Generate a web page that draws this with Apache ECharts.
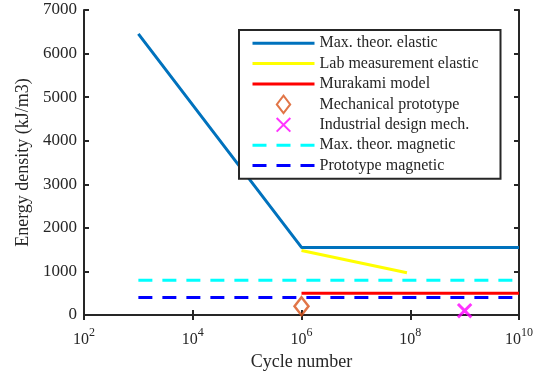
<!DOCTYPE html>
<html>
<head>
<meta charset="utf-8">
<script src="https://cdn.jsdelivr.net/npm/echarts@6/dist/echarts.min.js"></script>
<style>
  html, body { margin: 0; padding: 0; background: #fff; }
  #chart { width: 542px; height: 374px; }
</style>
</head>
<body>
<div id="chart"></div>
<script>
// Energy density vs. cycle number for elastic and magnetic storage
const seriesNames = [
  'Max. theor. elastic',
  'Lab measurement elastic',
  'Murakami model',
  'Mechanical prototype',
  'Industrial design mech.',
  'Max. theor. magnetic',
  'Prototype magnetic'
];
// [cycle number, energy density kJ/m3]
const maxTheorElastic = [[1e3, 6450], [1e6, 1550], [1e10, 1550]];
const labElastic = [[1e6, 1480], [8.7e7, 970]];
const murakami = [[1e6, 500], [1e10, 500]];
const mechPrototype = [[1e6, 200]];
const industrialDesign = [[1e9, 100]];
const maxTheorMagnetic = [[1e3, 800], [1e10, 800]];
const prototypeMagnetic = [[1e3, 400], [1e10, 400]];

const xMin = 1e2, xMax = 1e10;
const yMin = 0, yMax = 7000, yStep = 1000;

const ink = '#262626';
const serif = 'Liberation Serif';

// Symbol shapes; the zero-length end points only widen the bounding box
const noSymbol = 'path://M0,0L1,0Z M0,1L1,1Z';
const diamondPath = 'path://M5,0L10,6.5L5,13L0,6.5Z';
const crossPath = 'path://M0,0L0,0 M1.5,1.5L12.5,12.5 M12.5,1.5L1.5,12.5 M14,14L14,14';

const chart = echarts.init(document.getElementById('chart'), null, { renderer: 'canvas' });

const xBase = {
  type: 'log', logBase: 10, min: xMin, max: xMax, interval: 2,
  axisLine: { show: true, lineStyle: { color: ink, width: 2 } },
  axisTick: { show: true, inside: true, length: 5, lineStyle: { color: ink, width: 2 } },
  splitLine: { show: false }
};
const yBase = {
  type: 'value', min: yMin, max: yMax, interval: yStep,
  axisLine: { show: true, lineStyle: { color: ink, width: 2 } },
  axisTick: { show: true, inside: true, length: 5, lineStyle: { color: ink, width: 2 } },
  splitLine: { show: false }
};

function lineSeries(name, data, color, dashed) {
  return {
    name, type: 'line', data, symbol: noSymbol, showSymbol: false, silent: true,
    lineStyle: { color, width: 3, type: dashed ? [14, 10] : 'solid', cap: 'butt' },
    itemStyle: { color, borderWidth: 0, borderColor: 'rgba(0,0,0,0)' }
  };
}

const option = {
  animation: false,
  backgroundColor: '#fff',
  grid: { left: 84, right: 23, top: 10, bottom: 59, outerBoundsMode: 'none', containLabel: false },
  xAxis: [
    Object.assign({}, xBase, {
      position: 'bottom',
      name: 'Cycle number', nameLocation: 'middle', nameGap: 26,
      nameTextStyle: { fontFamily: serif, fontSize: 18, color: ink },
      axisLabel: {
        margin: 12, color: ink, fontFamily: serif,
        formatter: v => '{b|10}{s|' + Math.round(Math.log10(v)) + '}',
        rich: {
          b: { fontFamily: serif, fontSize: 16, color: ink, verticalAlign: 'bottom', padding: [5, 0, 0, 0] },
          s: { fontFamily: serif, fontSize: 12, color: ink, verticalAlign: 'top' }
        }
      }
    }),
    Object.assign({}, xBase, { position: 'top', axisLabel: { show: false } })
  ],
  yAxis: [
    Object.assign({}, yBase, {
      position: 'left',
      name: 'Energy density (kJ/m3)', nameLocation: 'middle', nameGap: 46,
      nameTextStyle: { fontFamily: serif, fontSize: 18, color: ink },
      axisLabel: { margin: 7, color: ink, fontFamily: serif, fontSize: 17, formatter: v => String(v) }
    }),
    Object.assign({}, yBase, { position: 'right', axisLabel: { show: false } })
  ],
  legend: {
    left: 239, top: 30, orient: 'vertical',
    data: seriesNames,
    itemWidth: 62, itemHeight: 17.4, itemGap: 0,
    padding: [3, 7, 3, 12],
    backgroundColor: '#fff',
    borderColor: ink, borderWidth: 2, borderRadius: 0,
    symbolKeepAspect: true,
    lineStyle: { width: 3 },
    formatter: name => '{t|' + name + '}',
    textStyle: {
      fontFamily: serif, fontSize: 16, color: ink, lineHeight: 20.4,
      rich: { t: { fontFamily: serif, fontSize: 16, color: ink, width: 174, height: 20.4, lineHeight: 20.4 } }
    },
    selectedMode: false
  },
  series: [
    lineSeries(seriesNames[0], maxTheorElastic, '#0072BD', false),
    lineSeries(seriesNames[1], labElastic, '#FFFF00', false),
    lineSeries(seriesNames[2], murakami, '#FF0000', false),
    {
      name: seriesNames[3], type: 'scatter', data: mechPrototype,
      symbol: diamondPath, symbolSize: [14, 18], silent: true,
      itemStyle: { color: 'rgba(255,255,255,0)', borderColor: '#D95319', borderWidth: 2.5 }
    },
    {
      name: seriesNames[4], type: 'scatter', data: industrialDesign,
      symbol: crossPath, symbolSize: [17, 17], silent: true,
      itemStyle: { color: 'rgba(255,255,255,0)', borderColor: '#FF00FF', borderWidth: 3 }
    },
    lineSeries(seriesNames[5], maxTheorMagnetic, '#00FFFF', true),
    lineSeries(seriesNames[6], prototypeMagnetic, '#0000FF', true)
  ]
};

chart.setOption(option);
</script>
</body>
</html>
